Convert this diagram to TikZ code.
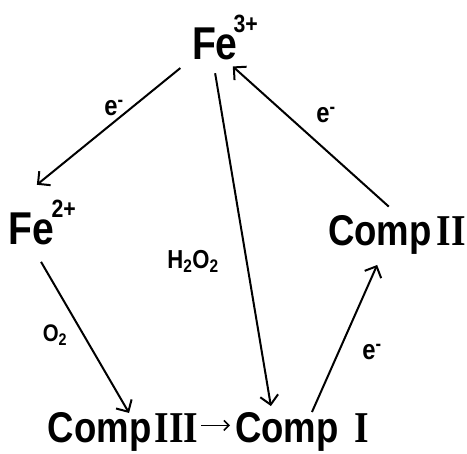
\documentclass[tikz,border=0pt]{standalone}
\usepackage{fontspec}
\newfontfamily\letterfont[FakeStretch=0.85]{Liberation Sans}
\newfontfamily\numeralfont[FakeStretch=0.85]{Liberation Serif}
\usetikzlibrary{arrows.meta,positioning}
\tikzset{
  species/.style={inner sep=0pt, outer sep=0pt, anchor=base west, font=\letterfont\bfseries\fontsize{43}{46}\selectfont},
  ironion/.style={species, font=\letterfont\bfseries\fontsize{46}{48}\selectfont},
  reagent/.style={inner sep=0pt, font=\letterfont\bfseries\fontsize{26}{28}\selectfont},
  electron/.style={reagent, font=\letterfont\bfseries\fontsize{28}{30}\selectfont},
  arrow/.style={-{Straight Barb[length=9pt,width=18pt]}, line width=2pt},
  shortarrow/.style={-{Straight Barb[length=5pt,width=10pt]}, line width=1.6pt}
}
\newcommand{\chg}[2]{\kern#1\raisebox{27pt}{\fontsize{25}{25}\selectfont #2}}
\newcommand{\romnum}[1]{{\numeralfont\bfseries\fontsize{44}{46}\selectfont #1}}

\begin{document}
\begin{tikzpicture}[x=1pt, y=-1pt]
  \useasboundingbox (0,0) rectangle (467,454);
  % species
  \node[ironion] (fe3) at (192,60) {Fe\chg{-4pt}{3+}};
  \node[ironion] (fe2) at (9,245) {Fe\chg{-3pt}{2+}};
  \node[species] (comp2) at (328,246) {Comp\kern5pt\romnum{II}};
  \node[species] (comp3) at (48,443) {Comp\kern3pt\romnum{III}};
  \node[species] (comp1) at (235,443) {Comp\kern16pt\romnum{I}};

  % cycle arrows
  \draw[arrow, shorten <=15pt, shorten >=25pt] (fe3.212) -- (fe2.138);
  \draw[arrow, shorten <=13pt, shorten >=7pt] (fe3.242) -- (comp1.147);
  \draw[arrow, shorten <=19pt] (fe2.244) -- (comp3.73);
  \draw[arrow, shorten <=1pt, shorten >=11pt] (comp1.64) -- (comp2.232);
  \draw[arrow, shorten <=14pt, shorten >=9pt] (comp2.83) -- (fe3.273);
  \draw[shortarrow, shorten <=3pt, shorten >=5pt] ([yshift=7pt]comp3.east) -- ([yshift=7pt]comp1.west);

  % labels
  \node[electron] (e1) at (114,108) {e\textsuperscript{-}};
  \node[reagent] (h2o2) at (193,261) {H\textsubscript{2}O\textsubscript{2}};
  \node[reagent, font=\letterfont\bfseries\fontsize{24}{26}\selectfont] (o2) at (55,335) {O\textsubscript{2}};
  \node[electron] (e2) at (372,352) {e\textsuperscript{-}};
  \node[electron] (e3) at (326,115) {e\textsuperscript{-}};
\end{tikzpicture}
\end{document}
